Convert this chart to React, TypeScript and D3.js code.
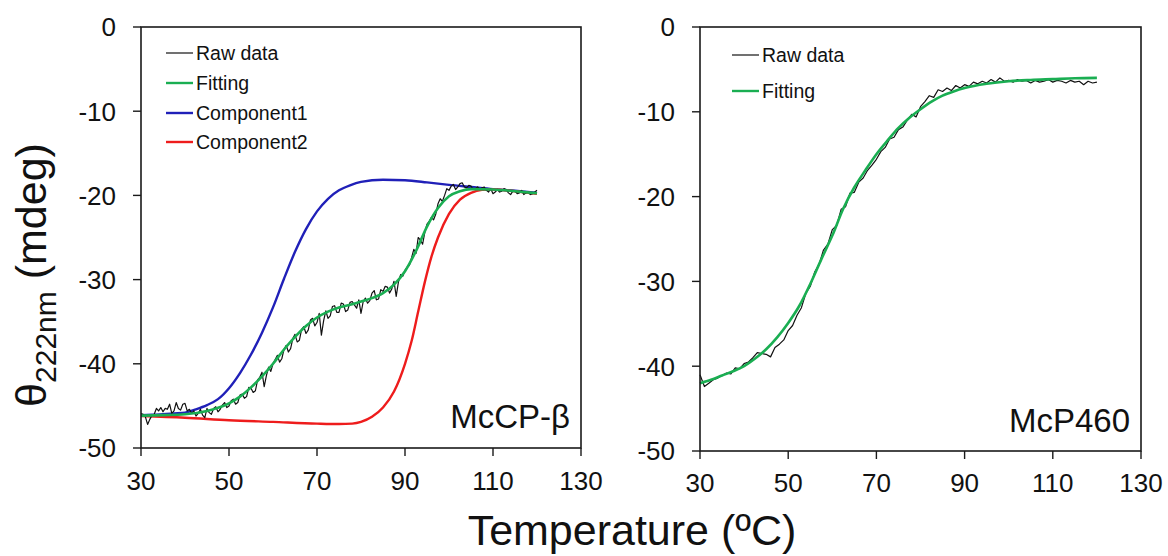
import React from 'react';
import * as d3 from 'd3';

// ---------- data ----------
const xTicks = [30, 50, 70, 90, 110, 130];
const yTicks = [0, -10, -20, -30, -40, -50];

// McCP-β panel (raw data sampled every 0.5 °C from 30 to 120)
const rawTempsA = d3.range(30, 120.01, 0.5);
const rawA = [
  -45.9, -46.0, -46.3, -47.2, -46.6, -46.1, -46.0, -45.3, -45.6, -45.2,
  -45.7, -45.3, -45.4, -44.8, -45.9, -45.6, -44.6, -45.3, -45.5, -44.8,
  -44.7, -45.6, -45.4, -45.9, -45.6, -46.2, -45.9, -45.4, -46.1, -46.4,
  -45.3, -45.8, -46.0, -45.3, -45.1, -45.7, -45.4, -44.9, -44.6, -45.2,
  -45.0, -44.4, -44.2, -44.8, -44.6, -43.7, -43.6, -44.1, -43.9, -42.8,
  -42.9, -43.4, -43.2, -41.9, -41.6, -41.0, -42.7, -41.4, -40.4, -40.9,
  -40.0, -39.5, -39.0, -39.8, -39.4, -38.3, -37.8, -38.6, -38.2, -37.0,
  -36.5, -37.4, -37.2, -35.9, -35.6, -36.4, -36.0, -34.8, -34.6, -35.5,
  -35.1, -34.0, -36.6, -34.9, -33.7, -34.6, -34.3, -33.2, -33.1, -33.9,
  -33.9, -32.8, -32.9, -33.8, -33.6, -32.7, -32.6, -33.0, -33.4, -32.4,
  -34.0, -32.6, -32.2, -32.8, -32.5, -31.6, -31.3, -32.4, -32.3, -31.2,
  -31.4, -30.8, -30.9, -31.6, -31.1, -30.2, -32.0, -30.3, -29.4, -29.6,
  -28.9, -28.5, -28.3, -27.4, -26.4, -26.9, -25.0, -25.3, -25.8, -24.4,
  -23.4, -23.1, -22.6, -22.9, -22.2, -21.0, -20.4, -20.7, -20.0, -19.2,
  -19.4, -18.9, -18.7, -19.3, -19.0, -18.6, -18.5, -19.0, -19.1, -18.8,
  -18.9, -19.3, -19.2, -19.0, -19.3, -19.1, -19.0, -19.4, -19.6, -19.2,
  -19.8, -19.6, -19.3, -19.6, -19.5, -19.2, -19.3, -19.7, -19.9, -19.5,
  -19.5, -19.8, -19.7, -19.4, -19.9, -19.7, -19.6, -19.9, -19.8, -19.6,
  -19.4,
];
const fitTempsA = [30, 35, 40, 45, 50, 52.5, 55, 57.5, 60, 62.5, 65, 67.5, 70, 72.5, 75, 77.5, 80, 82.5, 85, 87.5, 90, 92.5, 95, 97.5, 100, 102.5, 105, 110, 115, 120];
const fitA = [-46.15, -46.1, -46.0, -45.6, -44.7, -43.9, -42.8, -41.5, -40.0, -38.3, -36.8, -35.5, -34.5, -33.8, -33.3, -33.0, -32.6, -32.2, -31.6, -30.6, -29.0, -26.6, -23.7, -21.5, -20.1, -19.5, -19.25, -19.3, -19.5, -19.75];
const comp1Temps = [30, 32.5, 35, 37.5, 40, 42.5, 45, 47.5, 50, 52.5, 55, 57.5, 60, 62.5, 65, 67.5, 70, 72.5, 75, 77.5, 80, 85, 90, 95, 100, 105, 110, 115, 120];
const comp1 = [-46.1, -46.05, -46.0, -45.9, -45.8, -45.4, -44.9, -44.2, -42.9, -41.1, -38.9, -36.3, -33.3, -29.9, -26.7, -24.0, -21.9, -20.4, -19.4, -18.8, -18.4, -18.15, -18.2, -18.45, -18.75, -19.0, -19.25, -19.45, -19.7];
const comp2Temps = [30, 40, 50, 60, 70, 75, 78, 80, 82.5, 85, 87.5, 90, 91.5, 93, 94.5, 96, 97.5, 100, 102.5, 105, 107.5, 110, 115, 120];
const comp2 = [-46.2, -46.4, -46.7, -46.9, -47.1, -47.15, -47.1, -46.9, -46.3, -45.2, -43.3, -40.0, -37.3, -33.8, -30.3, -27.3, -25.0, -22.2, -20.5, -19.7, -19.35, -19.3, -19.5, -19.8];

// McP460 panel (raw data sampled every 1 °C from 30 to 120)
const rawTempsB = d3.range(30, 121, 1);
const rawB = [
  -41.0, -42.4, -42.0, -41.6, -41.4, -41.1, -40.8, -40.9, -40.2, -40.3,
  -39.7, -39.5, -39.0, -38.4, -38.5, -38.6, -38.9, -37.8, -37.4, -36.9,
  -35.8, -35.2, -34.0, -33.1, -31.4, -30.6, -28.9, -28.0, -26.3, -25.6,
  -23.9, -23.4, -21.5, -21.2, -19.6, -19.5, -18.3, -17.8, -16.9, -16.3,
  -15.6, -14.7, -14.2, -13.2, -13.0, -12.1, -11.8, -11.0, -10.3, -10.6,
  -9.4, -8.8, -8.1, -8.3, -7.4, -7.6, -7.2, -7.5, -6.9, -7.2,
  -6.8, -7.0, -6.5, -6.7, -6.4, -6.6, -6.2, -6.5, -6.0, -6.4,
  -6.3, -6.5, -6.2, -6.4, -6.3, -6.6, -6.3, -6.5, -6.4, -6.2,
  -6.5, -6.3, -6.4, -6.6, -6.3, -6.5, -6.4, -6.8, -6.4, -6.6,
  -6.5,
];
const fitTempsB = [30, 32.5, 35, 37.5, 40, 42.5, 45, 47.5, 50, 52.5, 55, 57.5, 60, 62.5, 65, 67.5, 70, 72.5, 75, 77.5, 80, 82.5, 85, 87.5, 90, 95, 100, 105, 110, 115, 120];
const fitB = [-42.0, -41.6, -41.1, -40.6, -40.0, -39.1, -38.0, -36.6, -34.9, -32.9, -30.3, -27.4, -24.6, -21.4, -18.9, -16.9, -15.0, -13.4, -11.9, -10.7, -9.7, -8.8, -8.1, -7.6, -7.2, -6.7, -6.4, -6.25, -6.15, -6.05, -6.0];

const legendA = ['Raw data', 'Fitting', 'Component1', 'Component2'];
const legendB = ['Raw data', 'Fitting'];

const COLORS: Record<string, string> = {
  'Raw data': '#111111',
  Fitting: '#1aae52',
  Component1: '#2020b8',
  Component2: '#ee1c1c',
};
const WIDTHS: Record<string, number> = {
  'Raw data': 1.2,
  Fitting: 2.6,
  Component1: 2.4,
  Component2: 2.4,
};

const FONT = "'Liberation Sans', Arial, sans-serif";

type Series = { name: string; t: number[]; v: number[]; smooth: boolean };

function Panel(props: {
  xr: [number, number];
  yr: [number, number];
  series: Series[];
  legend: string[];
  legendX: number;
  legendY: number[];
  label: string;
  labelBaseline: number;
  xLabelBaseline: number;
}) {
  const { xr, yr, series, legend, legendX, legendY, label, labelBaseline, xLabelBaseline } = props;
  const x = d3.scaleLinear().domain([30, 130]).range(xr);
  const y = d3.scaleLinear().domain([0, -50]).range(yr);
  const frame = '#1a1a1a';
  return (
    <g>
      {series.map((s) => {
        const pts = s.t.map((t, i) => [t, s.v[i]] as [number, number]);
        const line = d3
          .line<[number, number]>()
          .x((d) => x(d[0]))
          .y((d) => y(d[1]))
          .curve(s.smooth ? d3.curveMonotoneX : d3.curveLinear);
        return (
          <path
            key={s.name}
            d={line(pts) || ''}
            fill="none"
            stroke={COLORS[s.name]}
            strokeWidth={WIDTHS[s.name]}
            strokeLinejoin="round"
          />
        );
      })}
      <rect x={xr[0]} y={yr[0]} width={xr[1] - xr[0]} height={yr[1] - yr[0]} fill="none" stroke={frame} strokeWidth={1.6} />
      {yTicks.map((t) => (
        <g key={'y' + t}>
          <line x1={xr[0] - 8} x2={xr[0]} y1={y(t)} y2={y(t)} stroke={frame} strokeWidth={1.4} />
          <text x={xr[0] - 25} y={y(t)} dy="0.36em" textAnchor="end" fontSize={26} fontFamily={FONT} fill="#111">
            {t}
          </text>
        </g>
      ))}
      {xTicks.map((t) => (
        <g key={'x' + t}>
          <line x1={x(t)} x2={x(t)} y1={yr[1]} y2={yr[1] + 8} stroke={frame} strokeWidth={1.4} />
          <text x={x(t)} y={xLabelBaseline} textAnchor="middle" fontSize={26} fontFamily={FONT} fill="#111">
            {t}
          </text>
        </g>
      ))}
      {legend.map((name, i) => (
        <g key={'lg' + name}>
          <line x1={legendX} x2={legendX + 27} y1={legendY[i]} y2={legendY[i]} stroke={COLORS[name]} strokeWidth={name === 'Raw data' ? 1.2 : 2.4} />
          <text x={legendX + 30} y={legendY[i]} dy="0.36em" fontSize={19.5} fontFamily={FONT} fill="#111">
            {name}
          </text>
        </g>
      ))}
      <text x={xr[1] - 11} y={labelBaseline} textAnchor="end" fontSize={33} fontFamily={FONT} fill="#111">
        {label}
      </text>
    </g>
  );
}

export default function App() {
  const seriesA: Series[] = [
    { name: 'Component1', t: comp1Temps, v: comp1, smooth: true },
    { name: 'Component2', t: comp2Temps, v: comp2, smooth: true },
    { name: 'Raw data', t: rawTempsA, v: rawA, smooth: false },
    { name: 'Fitting', t: fitTempsA, v: fitA, smooth: true },
  ];
  const seriesB: Series[] = [
    { name: 'Raw data', t: rawTempsB, v: rawB, smooth: false },
    { name: 'Fitting', t: fitTempsB, v: fitB, smooth: true },
  ];
  return (
    <svg width={1168} height={556} style={{ position: 'absolute', left: 0, top: 0, background: '#fff' }}>
      <rect x={0} y={0} width={1168} height={556} fill="#fff" />
      <Panel
        xr={[141, 581]}
        yr={[27, 448]}
        series={seriesA}
        legend={legendA}
        legendX={166}
        legendY={[53, 83, 113, 142]}
        label="McCP-β"
        labelBaseline={428}
        xLabelBaseline={490}
      />
      <Panel
        xr={[700, 1141]}
        yr={[27, 451]}
        series={seriesB}
        legend={legendB}
        legendX={732}
        legendY={[55, 91]}
        label="McP460"
        labelBaseline={432}
        xLabelBaseline={492}
      />
      <text x={632} y={545} textAnchor="middle" fontSize={43} fontFamily={FONT} fill="#111">
        Temperature (ºC)
      </text>
      <text transform="translate(46,275) rotate(-90)" textAnchor="middle" fontSize={43} fontFamily={FONT} fill="#111">
        θ<tspan fontSize={30} dy={10}>222nm</tspan>
        <tspan dy={-10}> (mdeg)</tspan>
      </text>
    </svg>
  );
}
